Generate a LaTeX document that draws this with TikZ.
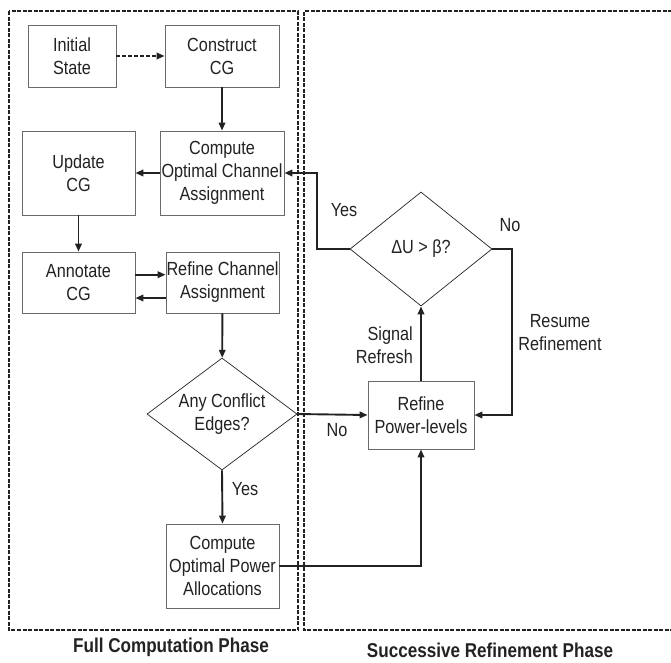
\documentclass[tikz,border=0pt]{standalone}
\usepackage{fontspec}
\setmainfont{Liberation Sans}[FakeStretch=0.855]
\usetikzlibrary{shapes.geometric,arrows.meta,calc}
\definecolor{boxline}{HTML}{6A6A6A}
\definecolor{ink}{HTML}{222222}
\begin{document}
\begin{tikzpicture}[x=1pt,y=-1pt,
  box/.style={draw=boxline, line width=0.8pt, rectangle, align=center, inner sep=0pt, text=ink, font=\fontsize{19}{23}\selectfont},
  dia/.style={draw=ink, line width=0.7pt, diamond, aspect=1.34, inner sep=0pt, align=center, text=ink, font=\fontsize{19}{23}\selectfont},
  arr/.style={draw=ink, line width=1.9pt, -{Triangle[length=8pt,width=6.5pt]}},
  lbl/.style={text=ink, font=\fontsize{19}{23}\selectfont, align=center, inner sep=0pt},
  ttl/.style={text=ink, font=\bfseries\fontsize{20}{24}\selectfont, inner sep=0pt},
  frame/.style={draw=ink, line width=1.6pt, dash pattern=on 4pt off 1.5pt}]
\useasboundingbox (0,0) rectangle (671,662);
% frames
\draw[frame] (9,11) rectangle (298,630);
\draw[frame] (672,11) -- (304,11) -- (304,630) -- (672,630);
% nodes
\node[box, minimum width=88, minimum height=62] (init) at (72,56) {Initial\\State};
\node[box, minimum width=114, minimum height=62] (cons) at (222,56) {Construct\\CG};
\node[box, minimum width=113, minimum height=84] (upd) at (78.5,173) {Update\\CG};
\node[box, minimum width=124, minimum height=84] (oca) at (222,173) {Compute\\Optimal Channel\\Assignment};
\node[box, minimum width=113, minimum height=61] (ann) at (78.5,282.5) {Annotate\\CG};
\node[box, minimum width=113, minimum height=61] (rca) at (222.5,282.5) {Refine Channel\\Assignment};
\node[dia, minimum width=150, minimum height=112] (conf) at (222,414) {Any Conflict\\Edges?};
\node[box, minimum width=106, minimum height=68] (rpl) at (421,415) {Refine\\Power-levels};
\node[dia, minimum width=142, minimum height=114] (du) at (421,249) {ΔU > β?};
\node[box, minimum width=113, minimum height=84] (opa) at (222.5,566) {Compute\\Optimal Power\\Allocations};
% labels
\node[lbl] (l1) at (344,210) {Yes};
\node[lbl] (l2) at (510,225.5) {No};
\node[lbl] (l3) at (337,430) {No};
\node[lbl] (l4) at (245,489) {Yes};
\node[lbl, align=right, anchor=east] (l5) at (413,345) {Signal\\Refresh};
\node[lbl] (l6) at (560,333) {Resume\\Refinement};
\node[ttl] (t1) at (171,647) {Full Computation Phase};
\node[ttl] (t2) at (490,650) {Successive Refinement Phase};
% connectors
\draw[arr, dashed, dash pattern=on 4pt off 2pt] (init) -- (cons);
\draw[arr] (cons) -- (oca);
\draw[arr] (oca) -- (upd);
\draw[arr] (upd) -- (ann);
\draw[arr] ([yshift=7.8pt]ann.east) -- ([yshift=7.8pt]rca.west);
\draw[arr] ([yshift=-15.5pt]rca.west) -- ([yshift=-15.5pt]ann.east);
\draw[arr] (rca) -- (conf);
\draw[arr] (conf.east) -- (rpl.west);
\draw[arr] (conf.south) -- (opa.north);
\draw[arr] (opa.east) -| (rpl.south);
\draw[arr] (rpl.north) -- (du.south);
\draw[arr] (du.east) -- ++(20,0) |- (rpl.east);
\draw[arr] (du.west) -- ++(-33,0) |- (oca.east);
\end{tikzpicture}
\end{document}
